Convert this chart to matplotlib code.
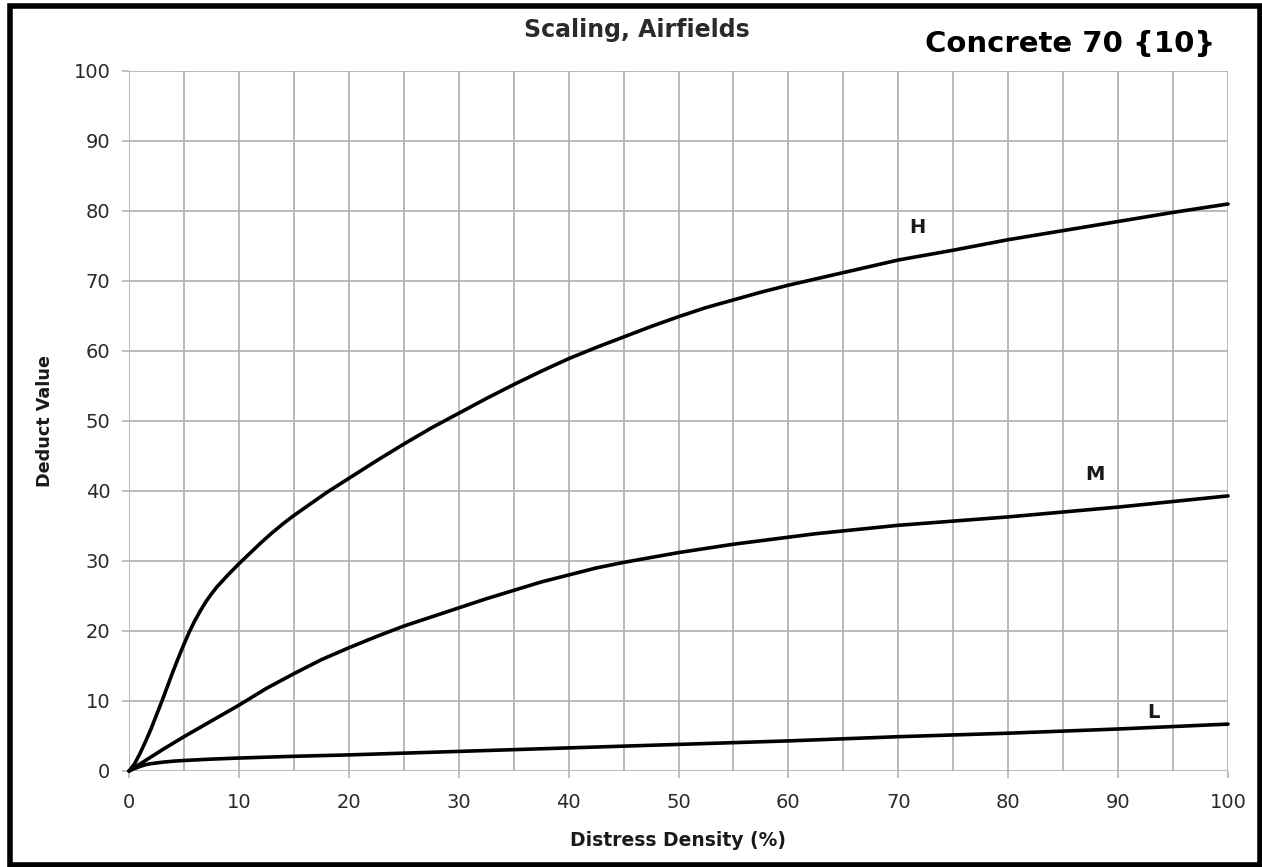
import matplotlib
matplotlib.use("Agg")
import matplotlib.pyplot as plt
from matplotlib.patches import Rectangle
from matplotlib.ticker import MultipleLocator

plt.rcParams['font.family'] = ['DejaVu Sans']

# Deduct value curves for concrete scaling (airfields)
density_h = [0, 0.5, 1, 1.5, 2, 2.5, 3, 3.5, 4, 4.5, 5, 5.5, 6, 6.5, 7, 7.5,
             8, 9, 10, 11, 12, 13, 14, 15, 16, 17, 18, 19, 20, 22.5, 25, 27.5,
             30, 32.5, 35, 37.5, 40, 42.5, 45, 47.5, 50, 52.5, 55, 57.5, 60,
             62.5, 65, 67.5, 70, 75, 80, 85, 90, 95, 100]
deduct_h = [0, 1.0, 2.5, 4.2, 6.0, 8.0, 10.0, 12.1, 14.2, 16.2, 18.1, 19.9,
            21.5, 22.9, 24.2, 25.3, 26.3, 28.0, 29.6, 31.1, 32.6, 34.0, 35.3,
            36.5, 37.6, 38.7, 39.8, 40.8, 41.8, 44.3, 46.7, 49.0, 51.1, 53.2,
            55.2, 57.1, 58.9, 60.5, 62.0, 63.5, 64.9, 66.2, 67.3, 68.4, 69.4,
            70.3, 71.2, 72.1, 73.0, 74.4, 75.9, 77.2, 78.5, 79.8, 81.0]

density_m = [0, 1, 2, 3, 4, 5, 6, 7, 8, 9, 10, 12.5, 15, 17.5, 20, 22.5, 25,
             27.5, 30, 32.5, 35, 37.5, 40, 42.5, 45, 47.5, 50, 52.5, 55, 57.5,
             60, 62.5, 65, 67.5, 70, 75, 80, 85, 90, 95, 100]
deduct_m = [0, 1.0, 2.0, 3.0, 3.95, 4.9, 5.8, 6.7, 7.6, 8.5, 9.4, 11.8, 13.9,
            15.9, 17.6, 19.2, 20.7, 22.0, 23.3, 24.6, 25.8, 27.0, 28.0, 29.0,
            29.8, 30.5, 31.2, 31.8, 32.4, 32.9, 33.4, 33.9, 34.3, 34.7, 35.1,
            35.7, 36.3, 37.0, 37.7, 38.5, 39.3]

density_l = [0, 0.5, 1, 1.5, 2, 3, 4, 5, 7.5, 10, 15, 20, 30, 40, 50, 60, 70,
             80, 90, 100]
deduct_l = [0, 0.35, 0.65, 0.9, 1.05, 1.25, 1.4, 1.5, 1.7, 1.85, 2.1, 2.3, 2.8,
            3.3, 3.8, 4.3, 4.9, 5.4, 6.0, 6.7]

curve_labels = ["H", "M", "L"]
label_pos = [(71.7, 77.6), (87.9, 42.4), (93.2, 8.3)]

x_ticks = list(range(0, 101, 10))
y_ticks = list(range(0, 101, 10))

fig = plt.figure(figsize=(12.62, 8.67), dpi=100)
ax = fig.add_axes([129 / 1262, 1 - 771 / 867, (1228 - 129) / 1262, (771 - 71) / 867])

grid_color = "#b4b4b4"
ax.set_xlim(0, 100)
ax.set_ylim(0, 100)
ax.xaxis.set_minor_locator(MultipleLocator(5))
ax.set_xticks(x_ticks)
ax.set_yticks(y_ticks)
ax.grid(which="major", color=grid_color, linewidth=1.3)
ax.grid(which="minor", axis="x", color=grid_color, linewidth=1.3)
ax.tick_params(which="minor", length=0)
ax.tick_params(which="major", length=5, width=1.2, color=grid_color,
               labelsize=14, labelcolor="#2a2a2a")
ax.tick_params(axis="x", pad=10.5)
ax.tick_params(axis="y", pad=8.5)
for s in ax.spines.values():
    s.set_visible(False)
ax.set_axisbelow(True)

for xs, ys in [(density_h, deduct_h), (density_m, deduct_m), (density_l, deduct_l)]:
    ax.plot(xs, ys, color="black", linewidth=2.6, solid_capstyle="round",
            solid_joinstyle="round", clip_on=False)

for lab, (lx, ly) in zip(curve_labels, label_pos):
    ax.text(lx, ly, lab, fontsize=14, fontweight="bold", color="#1a1a1a",
            ha="center", va="center")

ax.set_xlabel("Distress Density (%)", fontsize=13.5, fontweight="bold",
              color="#1a1a1a", labelpad=14)
ax.set_ylabel("Deduct Value", fontsize=12.7, fontweight="bold",
              color="#1a1a1a", labelpad=14)

fig.text(637 / 1262, 1 - 30 / 867, "Scaling, Airfields", fontsize=17,
         fontweight="bold", color="#2a2a2a", ha="center", va="center")
fig.text(1215 / 1262, 1 - 44 / 867, "Concrete 70 {10}", fontsize=21,
         fontweight="bold", color="black", ha="right", va="center")

fig.add_artist(Rectangle((10 / 1262, 2.5 / 867), (1259.5 - 10) / 1262,
                         (861.5 - 2.5) / 867, transform=fig.transFigure,
                         fill=False, edgecolor="black", linewidth=4))

fig.savefig("out.png", dpi=100, facecolor="white")
